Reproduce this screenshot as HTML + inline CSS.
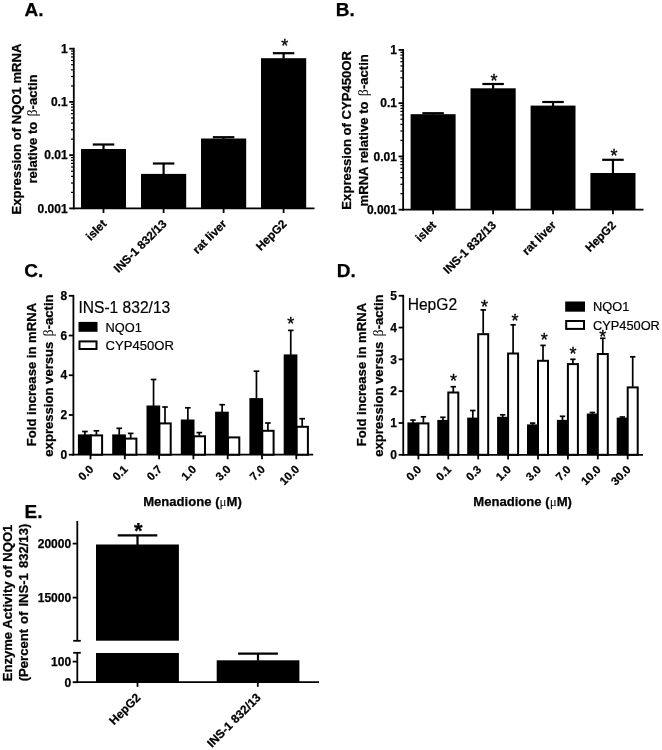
<!DOCTYPE html>
<html><head><meta charset="utf-8"><title>Figure</title>
<style>html,body{margin:0;padding:0;background:#fff}svg{display:block;filter:grayscale(1)}text{fill:#000}</style>
</head><body>
<svg width="662" height="750" viewBox="0 0 662 750" font-family="Liberation Sans, Arial, sans-serif">
<rect width="662" height="750" fill="#fff"/>
<text x="24.50" y="15.90" font-size="19" font-weight="bold" stroke="#000" stroke-width="0.25" text-anchor="start" >A.</text>
<text x="335.80" y="16.10" font-size="19" font-weight="bold" stroke="#000" stroke-width="0.25" text-anchor="start" >B.</text>
<text x="24.30" y="277.40" font-size="19" font-weight="bold" stroke="#000" stroke-width="0.25" text-anchor="start" >C.</text>
<text x="336.70" y="277.20" font-size="19" font-weight="bold" stroke="#000" stroke-width="0.25" text-anchor="start" >D.</text>
<text x="24.50" y="518.40" font-size="19" font-weight="bold" stroke="#000" stroke-width="0.25" text-anchor="start" >E.</text>
<line x1="73.80" y1="47.80" x2="73.80" y2="209.30" stroke="#000" stroke-width="1.8"/>
<line x1="72.90" y1="208.40" x2="314.50" y2="208.40" stroke="#000" stroke-width="1.8"/>
<line x1="69.20" y1="48.70" x2="73.80" y2="48.70" stroke="#000" stroke-width="1.8"/>
<text x="67.60" y="52.90" font-size="12" font-weight="bold" stroke="#000" stroke-width="0.25" text-anchor="end" >1</text>
<line x1="71.00" y1="85.91" x2="73.80" y2="85.91" stroke="#000" stroke-width="1.2"/>
<line x1="71.00" y1="76.53" x2="73.80" y2="76.53" stroke="#000" stroke-width="1.2"/>
<line x1="71.00" y1="69.88" x2="73.80" y2="69.88" stroke="#000" stroke-width="1.2"/>
<line x1="71.00" y1="64.72" x2="73.80" y2="64.72" stroke="#000" stroke-width="1.2"/>
<line x1="71.00" y1="60.51" x2="73.80" y2="60.51" stroke="#000" stroke-width="1.2"/>
<line x1="71.00" y1="56.95" x2="73.80" y2="56.95" stroke="#000" stroke-width="1.2"/>
<line x1="71.00" y1="53.86" x2="73.80" y2="53.86" stroke="#000" stroke-width="1.2"/>
<line x1="71.00" y1="51.14" x2="73.80" y2="51.14" stroke="#000" stroke-width="1.2"/>
<line x1="69.20" y1="101.93" x2="73.80" y2="101.93" stroke="#000" stroke-width="1.8"/>
<text x="67.60" y="106.13" font-size="12" font-weight="bold" stroke="#000" stroke-width="0.25" text-anchor="end" >0.1</text>
<line x1="71.00" y1="139.14" x2="73.80" y2="139.14" stroke="#000" stroke-width="1.2"/>
<line x1="71.00" y1="129.77" x2="73.80" y2="129.77" stroke="#000" stroke-width="1.2"/>
<line x1="71.00" y1="123.12" x2="73.80" y2="123.12" stroke="#000" stroke-width="1.2"/>
<line x1="71.00" y1="117.96" x2="73.80" y2="117.96" stroke="#000" stroke-width="1.2"/>
<line x1="71.00" y1="113.74" x2="73.80" y2="113.74" stroke="#000" stroke-width="1.2"/>
<line x1="71.00" y1="110.18" x2="73.80" y2="110.18" stroke="#000" stroke-width="1.2"/>
<line x1="71.00" y1="107.09" x2="73.80" y2="107.09" stroke="#000" stroke-width="1.2"/>
<line x1="71.00" y1="104.37" x2="73.80" y2="104.37" stroke="#000" stroke-width="1.2"/>
<line x1="69.20" y1="155.17" x2="73.80" y2="155.17" stroke="#000" stroke-width="1.8"/>
<text x="67.60" y="159.37" font-size="12" font-weight="bold" stroke="#000" stroke-width="0.25" text-anchor="end" >0.01</text>
<line x1="71.00" y1="192.38" x2="73.80" y2="192.38" stroke="#000" stroke-width="1.2"/>
<line x1="71.00" y1="183.00" x2="73.80" y2="183.00" stroke="#000" stroke-width="1.2"/>
<line x1="71.00" y1="176.35" x2="73.80" y2="176.35" stroke="#000" stroke-width="1.2"/>
<line x1="71.00" y1="171.19" x2="73.80" y2="171.19" stroke="#000" stroke-width="1.2"/>
<line x1="71.00" y1="166.98" x2="73.80" y2="166.98" stroke="#000" stroke-width="1.2"/>
<line x1="71.00" y1="163.41" x2="73.80" y2="163.41" stroke="#000" stroke-width="1.2"/>
<line x1="71.00" y1="160.33" x2="73.80" y2="160.33" stroke="#000" stroke-width="1.2"/>
<line x1="71.00" y1="157.60" x2="73.80" y2="157.60" stroke="#000" stroke-width="1.2"/>
<line x1="69.20" y1="208.40" x2="73.80" y2="208.40" stroke="#000" stroke-width="1.8"/>
<text x="67.60" y="212.60" font-size="12" font-weight="bold" stroke="#000" stroke-width="0.25" text-anchor="end" >0.001</text>
<rect x="81.00" y="149.00" width="45.00" height="59.40" fill="#000"/>
<line x1="103.50" y1="144.50" x2="103.50" y2="149.50" stroke="#000" stroke-width="2.2"/>
<line x1="92.75" y1="144.50" x2="114.25" y2="144.50" stroke="#000" stroke-width="2.2"/>
<line x1="103.50" y1="208.40" x2="103.50" y2="213.00" stroke="#000" stroke-width="1.8"/>
<text x="107.20" y="224.60" font-size="11.7" font-weight="bold" stroke="#000" stroke-width="0.25" text-anchor="end" transform="rotate(-45 107.20 224.60)" >islet</text>
<rect x="141.00" y="173.90" width="45.20" height="34.50" fill="#000"/>
<line x1="163.60" y1="163.50" x2="163.60" y2="174.40" stroke="#000" stroke-width="2.2"/>
<line x1="152.85" y1="163.50" x2="174.35" y2="163.50" stroke="#000" stroke-width="2.2"/>
<line x1="163.60" y1="208.40" x2="163.60" y2="213.00" stroke="#000" stroke-width="1.8"/>
<text x="167.30" y="224.60" font-size="11.7" font-weight="bold" stroke="#000" stroke-width="0.25" text-anchor="end" transform="rotate(-45 167.30 224.60)" >INS-1 832/13</text>
<rect x="201.00" y="138.50" width="45.20" height="69.90" fill="#000"/>
<line x1="223.60" y1="137.20" x2="223.60" y2="139.00" stroke="#000" stroke-width="2.2"/>
<line x1="212.85" y1="137.20" x2="234.35" y2="137.20" stroke="#000" stroke-width="2.2"/>
<line x1="223.60" y1="208.40" x2="223.60" y2="213.00" stroke="#000" stroke-width="1.8"/>
<text x="227.30" y="224.60" font-size="11.7" font-weight="bold" stroke="#000" stroke-width="0.25" text-anchor="end" transform="rotate(-45 227.30 224.60)" >rat liver</text>
<rect x="261.00" y="58.20" width="45.20" height="150.20" fill="#000"/>
<line x1="283.60" y1="53.20" x2="283.60" y2="58.70" stroke="#000" stroke-width="2.2"/>
<line x1="272.85" y1="53.20" x2="294.35" y2="53.20" stroke="#000" stroke-width="2.2"/>
<line x1="283.60" y1="208.40" x2="283.60" y2="213.00" stroke="#000" stroke-width="1.8"/>
<text x="287.30" y="224.60" font-size="11.7" font-weight="bold" stroke="#000" stroke-width="0.25" text-anchor="end" transform="rotate(-45 287.30 224.60)" >HepG2</text>
<text x="284.80" y="51.70" font-size="18"  text-anchor="middle" stroke="#000" stroke-width="0.35">*</text>
<text x="20.90" y="129.05" font-size="13.1" font-weight="bold" stroke="#000" stroke-width="0.25" text-anchor="middle" transform="rotate(-90 20.90 129.05)" >Expression of NQO1 mRNA</text>
<text x="37.50" y="129.05" font-size="13.1" font-weight="bold" stroke="#000" stroke-width="0.25" text-anchor="middle" transform="rotate(-90 37.50 129.05)" >relative to <tspan dx="1.6" font-size="14" font-family="Liberation Serif, serif" font-weight="normal" stroke="none">β</tspan>-actin</text>
<line x1="403.15" y1="49.00" x2="403.15" y2="210.60" stroke="#000" stroke-width="1.8"/>
<line x1="402.25" y1="209.70" x2="643.50" y2="209.70" stroke="#000" stroke-width="1.8"/>
<line x1="398.55" y1="49.90" x2="403.15" y2="49.90" stroke="#000" stroke-width="1.8"/>
<text x="396.95" y="54.10" font-size="12" font-weight="bold" stroke="#000" stroke-width="0.25" text-anchor="end" >1</text>
<line x1="400.35" y1="87.13" x2="403.15" y2="87.13" stroke="#000" stroke-width="1.2"/>
<line x1="400.35" y1="77.75" x2="403.15" y2="77.75" stroke="#000" stroke-width="1.2"/>
<line x1="400.35" y1="71.10" x2="403.15" y2="71.10" stroke="#000" stroke-width="1.2"/>
<line x1="400.35" y1="65.93" x2="403.15" y2="65.93" stroke="#000" stroke-width="1.2"/>
<line x1="400.35" y1="61.72" x2="403.15" y2="61.72" stroke="#000" stroke-width="1.2"/>
<line x1="400.35" y1="58.15" x2="403.15" y2="58.15" stroke="#000" stroke-width="1.2"/>
<line x1="400.35" y1="55.06" x2="403.15" y2="55.06" stroke="#000" stroke-width="1.2"/>
<line x1="400.35" y1="52.34" x2="403.15" y2="52.34" stroke="#000" stroke-width="1.2"/>
<line x1="398.55" y1="103.17" x2="403.15" y2="103.17" stroke="#000" stroke-width="1.8"/>
<text x="396.95" y="107.37" font-size="12" font-weight="bold" stroke="#000" stroke-width="0.25" text-anchor="end" >0.1</text>
<line x1="400.35" y1="140.40" x2="403.15" y2="140.40" stroke="#000" stroke-width="1.2"/>
<line x1="400.35" y1="131.02" x2="403.15" y2="131.02" stroke="#000" stroke-width="1.2"/>
<line x1="400.35" y1="124.36" x2="403.15" y2="124.36" stroke="#000" stroke-width="1.2"/>
<line x1="400.35" y1="119.20" x2="403.15" y2="119.20" stroke="#000" stroke-width="1.2"/>
<line x1="400.35" y1="114.98" x2="403.15" y2="114.98" stroke="#000" stroke-width="1.2"/>
<line x1="400.35" y1="111.42" x2="403.15" y2="111.42" stroke="#000" stroke-width="1.2"/>
<line x1="400.35" y1="108.33" x2="403.15" y2="108.33" stroke="#000" stroke-width="1.2"/>
<line x1="400.35" y1="105.60" x2="403.15" y2="105.60" stroke="#000" stroke-width="1.2"/>
<line x1="398.55" y1="156.43" x2="403.15" y2="156.43" stroke="#000" stroke-width="1.8"/>
<text x="396.95" y="160.63" font-size="12" font-weight="bold" stroke="#000" stroke-width="0.25" text-anchor="end" >0.01</text>
<line x1="400.35" y1="193.67" x2="403.15" y2="193.67" stroke="#000" stroke-width="1.2"/>
<line x1="400.35" y1="184.29" x2="403.15" y2="184.29" stroke="#000" stroke-width="1.2"/>
<line x1="400.35" y1="177.63" x2="403.15" y2="177.63" stroke="#000" stroke-width="1.2"/>
<line x1="400.35" y1="172.47" x2="403.15" y2="172.47" stroke="#000" stroke-width="1.2"/>
<line x1="400.35" y1="168.25" x2="403.15" y2="168.25" stroke="#000" stroke-width="1.2"/>
<line x1="400.35" y1="164.68" x2="403.15" y2="164.68" stroke="#000" stroke-width="1.2"/>
<line x1="400.35" y1="161.60" x2="403.15" y2="161.60" stroke="#000" stroke-width="1.2"/>
<line x1="400.35" y1="158.87" x2="403.15" y2="158.87" stroke="#000" stroke-width="1.2"/>
<line x1="398.55" y1="209.70" x2="403.15" y2="209.70" stroke="#000" stroke-width="1.8"/>
<text x="396.95" y="213.90" font-size="12" font-weight="bold" stroke="#000" stroke-width="0.25" text-anchor="end" >0.001</text>
<rect x="410.60" y="114.20" width="45.00" height="95.50" fill="#000"/>
<line x1="433.10" y1="113.20" x2="433.10" y2="114.70" stroke="#000" stroke-width="2.2"/>
<line x1="422.35" y1="113.20" x2="443.85" y2="113.20" stroke="#000" stroke-width="2.2"/>
<line x1="433.10" y1="209.70" x2="433.10" y2="214.30" stroke="#000" stroke-width="1.8"/>
<text x="436.80" y="225.90" font-size="11.7" font-weight="bold" stroke="#000" stroke-width="0.25" text-anchor="end" transform="rotate(-45 436.80 225.90)" >islet</text>
<rect x="470.50" y="88.30" width="45.20" height="121.40" fill="#000"/>
<line x1="493.10" y1="84.00" x2="493.10" y2="88.80" stroke="#000" stroke-width="2.2"/>
<line x1="482.35" y1="84.00" x2="503.85" y2="84.00" stroke="#000" stroke-width="2.2"/>
<line x1="493.10" y1="209.70" x2="493.10" y2="214.30" stroke="#000" stroke-width="1.8"/>
<text x="496.80" y="225.90" font-size="11.7" font-weight="bold" stroke="#000" stroke-width="0.25" text-anchor="end" transform="rotate(-45 496.80 225.90)" >INS-1 832/13</text>
<rect x="530.60" y="105.60" width="44.90" height="104.10" fill="#000"/>
<line x1="553.05" y1="102.00" x2="553.05" y2="106.10" stroke="#000" stroke-width="2.2"/>
<line x1="542.30" y1="102.00" x2="563.80" y2="102.00" stroke="#000" stroke-width="2.2"/>
<line x1="553.05" y1="209.70" x2="553.05" y2="214.30" stroke="#000" stroke-width="1.8"/>
<text x="556.75" y="225.90" font-size="11.7" font-weight="bold" stroke="#000" stroke-width="0.25" text-anchor="end" transform="rotate(-45 556.75 225.90)" >rat liver</text>
<rect x="590.40" y="173.00" width="45.10" height="36.70" fill="#000"/>
<line x1="612.95" y1="159.80" x2="612.95" y2="173.50" stroke="#000" stroke-width="2.2"/>
<line x1="602.20" y1="159.80" x2="623.70" y2="159.80" stroke="#000" stroke-width="2.2"/>
<line x1="612.95" y1="209.70" x2="612.95" y2="214.30" stroke="#000" stroke-width="1.8"/>
<text x="616.65" y="225.90" font-size="11.7" font-weight="bold" stroke="#000" stroke-width="0.25" text-anchor="end" transform="rotate(-45 616.65 225.90)" >HepG2</text>
<text x="494.00" y="86.70" font-size="18"  text-anchor="middle" stroke="#000" stroke-width="0.35">*</text>
<text x="614.00" y="162.20" font-size="18"  text-anchor="middle" stroke="#000" stroke-width="0.35">*</text>
<text x="351.00" y="130.30" font-size="13.1" font-weight="bold" stroke="#000" stroke-width="0.25" text-anchor="middle" transform="rotate(-90 351.00 130.30)" >Expression of CYP450OR</text>
<text x="368.50" y="130.30" font-size="13.1" font-weight="bold" stroke="#000" stroke-width="0.25" text-anchor="middle" transform="rotate(-90 368.50 130.30)" >mRNA relative to <tspan dx="1.6" font-size="14" font-family="Liberation Serif, serif" font-weight="normal" stroke="none">β</tspan>-actin</text>
<line x1="73.40" y1="294.90" x2="73.40" y2="455.60" stroke="#000" stroke-width="1.8"/>
<line x1="72.50" y1="454.70" x2="313.20" y2="454.70" stroke="#000" stroke-width="1.8"/>
<line x1="68.80" y1="454.70" x2="73.40" y2="454.70" stroke="#000" stroke-width="1.8"/>
<text x="67.20" y="458.90" font-size="12" font-weight="bold" stroke="#000" stroke-width="0.25" text-anchor="end" >0</text>
<line x1="68.80" y1="414.98" x2="73.40" y2="414.98" stroke="#000" stroke-width="1.8"/>
<text x="67.20" y="419.18" font-size="12" font-weight="bold" stroke="#000" stroke-width="0.25" text-anchor="end" >2</text>
<line x1="68.80" y1="375.25" x2="73.40" y2="375.25" stroke="#000" stroke-width="1.8"/>
<text x="67.20" y="379.45" font-size="12" font-weight="bold" stroke="#000" stroke-width="0.25" text-anchor="end" >4</text>
<line x1="68.80" y1="335.52" x2="73.40" y2="335.52" stroke="#000" stroke-width="1.8"/>
<text x="67.20" y="339.72" font-size="12" font-weight="bold" stroke="#000" stroke-width="0.25" text-anchor="end" >6</text>
<line x1="68.80" y1="295.80" x2="73.40" y2="295.80" stroke="#000" stroke-width="1.8"/>
<text x="67.20" y="300.00" font-size="12" font-weight="bold" stroke="#000" stroke-width="0.25" text-anchor="end" >8</text>
<line x1="96.40" y1="430.80" x2="96.40" y2="434.90" stroke="#000" stroke-width="1.7"/>
<line x1="93.60" y1="430.80" x2="99.20" y2="430.80" stroke="#000" stroke-width="1.7"/>
<rect x="90.70" y="435.40" width="11.40" height="19.30" fill="#fff" stroke="#000" stroke-width="2.0"/>
<rect x="77.90" y="434.40" width="13.70" height="20.30" fill="#000"/>
<line x1="84.95" y1="431.50" x2="84.95" y2="434.90" stroke="#000" stroke-width="1.7"/>
<line x1="82.15" y1="431.50" x2="87.75" y2="431.50" stroke="#000" stroke-width="1.7"/>
<line x1="90.50" y1="454.70" x2="90.50" y2="459.30" stroke="#000" stroke-width="1.8"/>
<text x="94.20" y="470.10" font-size="11.4" font-weight="bold" stroke="#000" stroke-width="0.25" text-anchor="end" transform="rotate(-45 94.20 470.10)" >0.0</text>
<line x1="130.70" y1="433.40" x2="130.70" y2="438.10" stroke="#000" stroke-width="1.7"/>
<line x1="127.90" y1="433.40" x2="133.50" y2="433.40" stroke="#000" stroke-width="1.7"/>
<rect x="125.00" y="438.60" width="11.40" height="16.10" fill="#fff" stroke="#000" stroke-width="2.0"/>
<rect x="112.20" y="434.40" width="13.70" height="20.30" fill="#000"/>
<line x1="119.25" y1="428.30" x2="119.25" y2="434.90" stroke="#000" stroke-width="1.7"/>
<line x1="116.45" y1="428.30" x2="122.05" y2="428.30" stroke="#000" stroke-width="1.7"/>
<line x1="124.80" y1="454.70" x2="124.80" y2="459.30" stroke="#000" stroke-width="1.8"/>
<text x="128.50" y="470.10" font-size="11.4" font-weight="bold" stroke="#000" stroke-width="0.25" text-anchor="end" transform="rotate(-45 128.50 470.10)" >0.1</text>
<line x1="165.00" y1="407.00" x2="165.00" y2="422.90" stroke="#000" stroke-width="1.7"/>
<line x1="162.20" y1="407.00" x2="167.80" y2="407.00" stroke="#000" stroke-width="1.7"/>
<rect x="159.30" y="423.40" width="11.40" height="31.30" fill="#fff" stroke="#000" stroke-width="2.0"/>
<rect x="146.50" y="405.50" width="13.70" height="49.20" fill="#000"/>
<line x1="153.55" y1="379.50" x2="153.55" y2="406.00" stroke="#000" stroke-width="1.7"/>
<line x1="150.75" y1="379.50" x2="156.35" y2="379.50" stroke="#000" stroke-width="1.7"/>
<line x1="159.10" y1="454.70" x2="159.10" y2="459.30" stroke="#000" stroke-width="1.8"/>
<text x="162.80" y="470.10" font-size="11.4" font-weight="bold" stroke="#000" stroke-width="0.25" text-anchor="end" transform="rotate(-45 162.80 470.10)" >0.7</text>
<line x1="199.30" y1="432.60" x2="199.30" y2="435.80" stroke="#000" stroke-width="1.7"/>
<line x1="196.50" y1="432.60" x2="202.10" y2="432.60" stroke="#000" stroke-width="1.7"/>
<rect x="193.60" y="436.30" width="11.40" height="18.40" fill="#fff" stroke="#000" stroke-width="2.0"/>
<rect x="180.80" y="419.50" width="13.70" height="35.20" fill="#000"/>
<line x1="187.85" y1="407.80" x2="187.85" y2="420.00" stroke="#000" stroke-width="1.7"/>
<line x1="185.05" y1="407.80" x2="190.65" y2="407.80" stroke="#000" stroke-width="1.7"/>
<line x1="193.40" y1="454.70" x2="193.40" y2="459.30" stroke="#000" stroke-width="1.8"/>
<text x="197.10" y="470.10" font-size="11.4" font-weight="bold" stroke="#000" stroke-width="0.25" text-anchor="end" transform="rotate(-45 197.10 470.10)" >1.0</text>
<rect x="227.90" y="437.40" width="11.40" height="17.30" fill="#fff" stroke="#000" stroke-width="2.0"/>
<rect x="215.10" y="411.70" width="13.70" height="43.00" fill="#000"/>
<line x1="222.15" y1="404.70" x2="222.15" y2="412.20" stroke="#000" stroke-width="1.7"/>
<line x1="219.35" y1="404.70" x2="224.95" y2="404.70" stroke="#000" stroke-width="1.7"/>
<line x1="227.70" y1="454.70" x2="227.70" y2="459.30" stroke="#000" stroke-width="1.8"/>
<text x="231.40" y="470.10" font-size="11.4" font-weight="bold" stroke="#000" stroke-width="0.25" text-anchor="end" transform="rotate(-45 231.40 470.10)" >3.0</text>
<line x1="267.90" y1="423.00" x2="267.90" y2="430.30" stroke="#000" stroke-width="1.7"/>
<line x1="265.10" y1="423.00" x2="270.70" y2="423.00" stroke="#000" stroke-width="1.7"/>
<rect x="262.20" y="430.80" width="11.40" height="23.90" fill="#fff" stroke="#000" stroke-width="2.0"/>
<rect x="249.40" y="398.10" width="13.70" height="56.60" fill="#000"/>
<line x1="256.45" y1="371.20" x2="256.45" y2="398.60" stroke="#000" stroke-width="1.7"/>
<line x1="253.65" y1="371.20" x2="259.25" y2="371.20" stroke="#000" stroke-width="1.7"/>
<line x1="262.00" y1="454.70" x2="262.00" y2="459.30" stroke="#000" stroke-width="1.8"/>
<text x="265.70" y="470.10" font-size="11.4" font-weight="bold" stroke="#000" stroke-width="0.25" text-anchor="end" transform="rotate(-45 265.70 470.10)" >7.0</text>
<line x1="302.20" y1="418.70" x2="302.20" y2="426.30" stroke="#000" stroke-width="1.7"/>
<line x1="299.40" y1="418.70" x2="305.00" y2="418.70" stroke="#000" stroke-width="1.7"/>
<rect x="296.50" y="426.80" width="11.40" height="27.90" fill="#fff" stroke="#000" stroke-width="2.0"/>
<rect x="283.70" y="354.40" width="13.70" height="100.30" fill="#000"/>
<line x1="290.75" y1="330.40" x2="290.75" y2="354.90" stroke="#000" stroke-width="1.7"/>
<line x1="287.95" y1="330.40" x2="293.55" y2="330.40" stroke="#000" stroke-width="1.7"/>
<line x1="296.30" y1="454.70" x2="296.30" y2="459.30" stroke="#000" stroke-width="1.8"/>
<text x="300.00" y="470.10" font-size="11.4" font-weight="bold" stroke="#000" stroke-width="0.25" text-anchor="end" transform="rotate(-45 300.00 470.10)" >10.0</text>
<text x="290.70" y="330.20" font-size="18"  text-anchor="middle" stroke="#000" stroke-width="0.35">*</text>
<text x="36.40" y="374.55" font-size="13.1" font-weight="bold" stroke="#000" stroke-width="0.25" text-anchor="middle" transform="rotate(-90 36.40 374.55)" >Fold increase in mRNA</text>
<text x="52.80" y="375.55" font-size="13.1" font-weight="bold" stroke="#000" stroke-width="0.25" text-anchor="middle" transform="rotate(-90 52.80 375.55)" >expression versus <tspan dx="1.6" font-size="14" font-family="Liberation Serif, serif" font-weight="normal" stroke="none">β</tspan>-actin</text>
<text x="192.50" y="506.30" font-size="13.1" font-weight="bold" stroke="#000" stroke-width="0.25" text-anchor="middle" >Menadione (<tspan font-family="Liberation Serif, serif" font-weight="normal" stroke="none">μ</tspan>M)</text>
<text x="78.40" y="312.90" font-size="15.6"  text-anchor="start" stroke="#000" stroke-width="0.2">INS-1 832/13</text>
<rect x="78.50" y="321.90" width="19.00" height="9.90" fill="#000"/>
<rect x="79.50" y="341.40" width="17.00" height="7.60" fill="#fff" stroke="#000" stroke-width="2.0"/>
<text x="105.60" y="331.70" font-size="12.8"  text-anchor="start" stroke="#000" stroke-width="0.2">NQO1</text>
<text x="105.60" y="350.10" font-size="12.8"  text-anchor="start" textLength="68.3" lengthAdjust="spacingAndGlyphs" stroke="#000" stroke-width="0.2">CYP450OR</text>
<line x1="403.25" y1="294.85" x2="403.25" y2="455.70" stroke="#000" stroke-width="1.8"/>
<line x1="402.35" y1="454.80" x2="643.00" y2="454.80" stroke="#000" stroke-width="1.8"/>
<line x1="398.65" y1="454.80" x2="403.25" y2="454.80" stroke="#000" stroke-width="1.8"/>
<text x="397.05" y="459.00" font-size="12" font-weight="bold" stroke="#000" stroke-width="0.25" text-anchor="end" >0</text>
<line x1="398.65" y1="422.99" x2="403.25" y2="422.99" stroke="#000" stroke-width="1.8"/>
<text x="397.05" y="427.19" font-size="12" font-weight="bold" stroke="#000" stroke-width="0.25" text-anchor="end" >1</text>
<line x1="398.65" y1="391.18" x2="403.25" y2="391.18" stroke="#000" stroke-width="1.8"/>
<text x="397.05" y="395.38" font-size="12" font-weight="bold" stroke="#000" stroke-width="0.25" text-anchor="end" >2</text>
<line x1="398.65" y1="359.37" x2="403.25" y2="359.37" stroke="#000" stroke-width="1.8"/>
<text x="397.05" y="363.57" font-size="12" font-weight="bold" stroke="#000" stroke-width="0.25" text-anchor="end" >3</text>
<line x1="398.65" y1="327.56" x2="403.25" y2="327.56" stroke="#000" stroke-width="1.8"/>
<text x="397.05" y="331.76" font-size="12" font-weight="bold" stroke="#000" stroke-width="0.25" text-anchor="end" >4</text>
<line x1="398.65" y1="295.75" x2="403.25" y2="295.75" stroke="#000" stroke-width="1.8"/>
<text x="397.05" y="299.95" font-size="12" font-weight="bold" stroke="#000" stroke-width="0.25" text-anchor="end" >5</text>
<line x1="423.40" y1="416.80" x2="423.40" y2="422.90" stroke="#000" stroke-width="1.7"/>
<line x1="420.70" y1="416.80" x2="426.10" y2="416.80" stroke="#000" stroke-width="1.7"/>
<rect x="418.40" y="423.40" width="10.00" height="31.40" fill="#fff" stroke="#000" stroke-width="2.0"/>
<rect x="407.40" y="422.40" width="10.80" height="32.40" fill="#000"/>
<line x1="413.00" y1="420.10" x2="413.00" y2="422.90" stroke="#000" stroke-width="1.7"/>
<line x1="410.30" y1="420.10" x2="415.70" y2="420.10" stroke="#000" stroke-width="1.7"/>
<line x1="418.40" y1="454.80" x2="418.40" y2="459.40" stroke="#000" stroke-width="1.8"/>
<text x="422.10" y="470.20" font-size="11.4" font-weight="bold" stroke="#000" stroke-width="0.25" text-anchor="end" transform="rotate(-45 422.10 470.20)" >0.0</text>
<line x1="453.30" y1="386.70" x2="453.30" y2="392.00" stroke="#000" stroke-width="1.7"/>
<line x1="450.60" y1="386.70" x2="456.00" y2="386.70" stroke="#000" stroke-width="1.7"/>
<rect x="448.30" y="392.50" width="10.00" height="62.30" fill="#fff" stroke="#000" stroke-width="2.0"/>
<rect x="437.30" y="419.90" width="10.80" height="34.90" fill="#000"/>
<line x1="442.90" y1="417.30" x2="442.90" y2="420.40" stroke="#000" stroke-width="1.7"/>
<line x1="440.20" y1="417.30" x2="445.60" y2="417.30" stroke="#000" stroke-width="1.7"/>
<line x1="448.30" y1="454.80" x2="448.30" y2="459.40" stroke="#000" stroke-width="1.8"/>
<text x="452.00" y="470.20" font-size="11.4" font-weight="bold" stroke="#000" stroke-width="0.25" text-anchor="end" transform="rotate(-45 452.00 470.20)" >0.1</text>
<line x1="483.20" y1="309.90" x2="483.20" y2="333.70" stroke="#000" stroke-width="1.7"/>
<line x1="480.50" y1="309.90" x2="485.90" y2="309.90" stroke="#000" stroke-width="1.7"/>
<rect x="478.20" y="334.20" width="10.00" height="120.60" fill="#fff" stroke="#000" stroke-width="2.0"/>
<rect x="467.20" y="417.60" width="10.80" height="37.20" fill="#000"/>
<line x1="472.80" y1="410.50" x2="472.80" y2="418.10" stroke="#000" stroke-width="1.7"/>
<line x1="470.10" y1="410.50" x2="475.50" y2="410.50" stroke="#000" stroke-width="1.7"/>
<line x1="478.20" y1="454.80" x2="478.20" y2="459.40" stroke="#000" stroke-width="1.8"/>
<text x="481.90" y="470.20" font-size="11.4" font-weight="bold" stroke="#000" stroke-width="0.25" text-anchor="end" transform="rotate(-45 481.90 470.20)" >0.3</text>
<line x1="513.10" y1="324.80" x2="513.10" y2="353.00" stroke="#000" stroke-width="1.7"/>
<line x1="510.40" y1="324.80" x2="515.80" y2="324.80" stroke="#000" stroke-width="1.7"/>
<rect x="508.10" y="353.50" width="10.00" height="101.30" fill="#fff" stroke="#000" stroke-width="2.0"/>
<rect x="497.10" y="416.80" width="10.80" height="38.00" fill="#000"/>
<line x1="502.70" y1="414.80" x2="502.70" y2="417.30" stroke="#000" stroke-width="1.7"/>
<line x1="500.00" y1="414.80" x2="505.40" y2="414.80" stroke="#000" stroke-width="1.7"/>
<line x1="508.10" y1="454.80" x2="508.10" y2="459.40" stroke="#000" stroke-width="1.8"/>
<text x="511.80" y="470.20" font-size="11.4" font-weight="bold" stroke="#000" stroke-width="0.25" text-anchor="end" transform="rotate(-45 511.80 470.20)" >1.0</text>
<line x1="543.00" y1="345.40" x2="543.00" y2="360.30" stroke="#000" stroke-width="1.7"/>
<line x1="540.30" y1="345.40" x2="545.70" y2="345.40" stroke="#000" stroke-width="1.7"/>
<rect x="538.00" y="360.80" width="10.00" height="94.00" fill="#fff" stroke="#000" stroke-width="2.0"/>
<rect x="527.00" y="424.40" width="10.80" height="30.40" fill="#000"/>
<line x1="532.60" y1="423.10" x2="532.60" y2="424.90" stroke="#000" stroke-width="1.7"/>
<line x1="529.90" y1="423.10" x2="535.30" y2="423.10" stroke="#000" stroke-width="1.7"/>
<line x1="538.00" y1="454.80" x2="538.00" y2="459.40" stroke="#000" stroke-width="1.8"/>
<text x="541.70" y="470.20" font-size="11.4" font-weight="bold" stroke="#000" stroke-width="0.25" text-anchor="end" transform="rotate(-45 541.70 470.20)" >3.0</text>
<line x1="572.90" y1="359.30" x2="572.90" y2="363.60" stroke="#000" stroke-width="1.7"/>
<line x1="570.20" y1="359.30" x2="575.60" y2="359.30" stroke="#000" stroke-width="1.7"/>
<rect x="567.90" y="364.10" width="10.00" height="90.70" fill="#fff" stroke="#000" stroke-width="2.0"/>
<rect x="556.90" y="419.90" width="10.80" height="34.90" fill="#000"/>
<line x1="562.50" y1="416.30" x2="562.50" y2="420.40" stroke="#000" stroke-width="1.7"/>
<line x1="559.80" y1="416.30" x2="565.20" y2="416.30" stroke="#000" stroke-width="1.7"/>
<line x1="567.90" y1="454.80" x2="567.90" y2="459.40" stroke="#000" stroke-width="1.8"/>
<text x="571.60" y="470.20" font-size="11.4" font-weight="bold" stroke="#000" stroke-width="0.25" text-anchor="end" transform="rotate(-45 571.60 470.20)" >7.0</text>
<line x1="602.80" y1="338.30" x2="602.80" y2="353.50" stroke="#000" stroke-width="1.7"/>
<line x1="600.10" y1="338.30" x2="605.50" y2="338.30" stroke="#000" stroke-width="1.7"/>
<rect x="597.80" y="354.00" width="10.00" height="100.80" fill="#fff" stroke="#000" stroke-width="2.0"/>
<rect x="586.80" y="413.50" width="10.80" height="41.30" fill="#000"/>
<line x1="592.40" y1="412.50" x2="592.40" y2="414.00" stroke="#000" stroke-width="1.7"/>
<line x1="589.70" y1="412.50" x2="595.10" y2="412.50" stroke="#000" stroke-width="1.7"/>
<line x1="597.80" y1="454.80" x2="597.80" y2="459.40" stroke="#000" stroke-width="1.8"/>
<text x="601.50" y="470.20" font-size="11.4" font-weight="bold" stroke="#000" stroke-width="0.25" text-anchor="end" transform="rotate(-45 601.50 470.20)" >10.0</text>
<line x1="632.70" y1="356.80" x2="632.70" y2="386.90" stroke="#000" stroke-width="1.7"/>
<line x1="630.00" y1="356.80" x2="635.40" y2="356.80" stroke="#000" stroke-width="1.7"/>
<rect x="627.70" y="387.40" width="10.00" height="67.40" fill="#fff" stroke="#000" stroke-width="2.0"/>
<rect x="616.70" y="417.60" width="10.80" height="37.20" fill="#000"/>
<line x1="622.30" y1="417.00" x2="622.30" y2="418.10" stroke="#000" stroke-width="1.7"/>
<line x1="619.60" y1="417.00" x2="625.00" y2="417.00" stroke="#000" stroke-width="1.7"/>
<line x1="627.70" y1="454.80" x2="627.70" y2="459.40" stroke="#000" stroke-width="1.8"/>
<text x="631.40" y="470.20" font-size="11.4" font-weight="bold" stroke="#000" stroke-width="0.25" text-anchor="end" transform="rotate(-45 631.40 470.20)" >30.0</text>
<text x="453.60" y="386.70" font-size="18"  text-anchor="middle" stroke="#000" stroke-width="0.35">*</text>
<text x="484.50" y="312.50" font-size="18"  text-anchor="middle" stroke="#000" stroke-width="0.35">*</text>
<text x="515.00" y="327.20" font-size="18"  text-anchor="middle" stroke="#000" stroke-width="0.35">*</text>
<text x="544.30" y="346.20" font-size="18"  text-anchor="middle" stroke="#000" stroke-width="0.35">*</text>
<text x="572.90" y="360.20" font-size="18"  text-anchor="middle" stroke="#000" stroke-width="0.35">*</text>
<text x="602.80" y="342.90" font-size="18"  text-anchor="middle" stroke="#000" stroke-width="0.35">*</text>
<text x="366.30" y="374.57" font-size="13.1" font-weight="bold" stroke="#000" stroke-width="0.25" text-anchor="middle" transform="rotate(-90 366.30 374.57)" >Fold increase in mRNA</text>
<text x="383.00" y="375.57" font-size="13.1" font-weight="bold" stroke="#000" stroke-width="0.25" text-anchor="middle" transform="rotate(-90 383.00 375.57)" >expression versus <tspan dx="1.6" font-size="14" font-family="Liberation Serif, serif" font-weight="normal" stroke="none">β</tspan>-actin</text>
<text x="522.60" y="506.30" font-size="13.1" font-weight="bold" stroke="#000" stroke-width="0.25" text-anchor="middle" >Menadione (<tspan font-family="Liberation Serif, serif" font-weight="normal" stroke="none">μ</tspan>M)</text>
<text x="407.70" y="310.10" font-size="15.6"  text-anchor="start" stroke="#000" stroke-width="0.2">HepG2</text>
<rect x="565.20" y="301.50" width="19.80" height="10.20" fill="#000"/>
<rect x="566.20" y="321.00" width="17.80" height="7.90" fill="#fff" stroke="#000" stroke-width="2.0"/>
<text x="593.00" y="311.00" font-size="12.8"  text-anchor="start" stroke="#000" stroke-width="0.2">NQO1</text>
<text x="593.00" y="329.50" font-size="12.8"  text-anchor="start" stroke="#000" stroke-width="0.2">CYP450OR</text>
<line x1="77.30" y1="521.00" x2="77.30" y2="640.80" stroke="#000" stroke-width="1.8"/>
<line x1="73.20" y1="640.80" x2="80.80" y2="640.80" stroke="#000" stroke-width="1.8"/>
<line x1="77.30" y1="652.80" x2="77.30" y2="683.10" stroke="#000" stroke-width="1.8"/>
<line x1="73.20" y1="652.80" x2="80.80" y2="652.80" stroke="#000" stroke-width="1.8"/>
<line x1="76.40" y1="682.20" x2="319.00" y2="682.20" stroke="#000" stroke-width="1.8"/>
<line x1="72.70" y1="543.60" x2="77.30" y2="543.60" stroke="#000" stroke-width="1.8"/>
<text x="71.10" y="548.10" font-size="12" font-weight="bold" stroke="#000" stroke-width="0.25" text-anchor="end" >20000</text>
<line x1="72.70" y1="597.60" x2="77.30" y2="597.60" stroke="#000" stroke-width="1.8"/>
<text x="71.10" y="602.10" font-size="12" font-weight="bold" stroke="#000" stroke-width="0.25" text-anchor="end" >15000</text>
<line x1="72.70" y1="661.60" x2="77.30" y2="661.60" stroke="#000" stroke-width="1.8"/>
<text x="71.10" y="666.10" font-size="12" font-weight="bold" stroke="#000" stroke-width="0.25" text-anchor="end" >100</text>
<line x1="72.70" y1="682.20" x2="77.30" y2="682.20" stroke="#000" stroke-width="1.8"/>
<text x="71.10" y="686.70" font-size="12" font-weight="bold" stroke="#000" stroke-width="0.25" text-anchor="end" >0</text>
<rect x="96.00" y="544.50" width="82.90" height="96.20" fill="#000"/>
<rect x="96.00" y="653.00" width="82.90" height="29.20" fill="#000"/>
<line x1="137.50" y1="535.30" x2="137.50" y2="545.00" stroke="#000" stroke-width="2.2"/>
<line x1="117.70" y1="535.30" x2="157.30" y2="535.30" stroke="#000" stroke-width="2.2"/>
<text x="138.25" y="538.30" font-size="22" font-weight="bold" stroke="#000" stroke-width="0.25" text-anchor="middle" >*</text>
<rect x="216.70" y="660.30" width="82.70" height="21.90" fill="#000"/>
<line x1="258.00" y1="653.60" x2="258.00" y2="660.80" stroke="#000" stroke-width="2.2"/>
<line x1="238.10" y1="653.60" x2="277.90" y2="653.60" stroke="#000" stroke-width="2.2"/>
<line x1="137.50" y1="682.20" x2="137.50" y2="686.80" stroke="#000" stroke-width="1.8"/>
<text x="141.20" y="698.40" font-size="11.9" font-weight="bold" stroke="#000" stroke-width="0.25" text-anchor="end" transform="rotate(-45 141.20 698.40)" >HepG2</text>
<line x1="257.80" y1="682.20" x2="257.80" y2="686.80" stroke="#000" stroke-width="1.8"/>
<text x="261.50" y="698.40" font-size="11.9" font-weight="bold" stroke="#000" stroke-width="0.25" text-anchor="end" transform="rotate(-45 261.50 698.40)" >INS-1 832/13</text>
<text x="12.30" y="603.00" font-size="13.1" font-weight="bold" stroke="#000" stroke-width="0.25" text-anchor="middle" transform="rotate(-90 12.30 603.00)" >Enzyme Activity of NQO1</text>
<text x="28.10" y="602.50" font-size="13.1" font-weight="bold" stroke="#000" stroke-width="0.25" text-anchor="middle" transform="rotate(-90 28.10 602.50)" word-spacing="1.35">(Percent of INS-1 832/13)</text>
</svg>
</body></html>
